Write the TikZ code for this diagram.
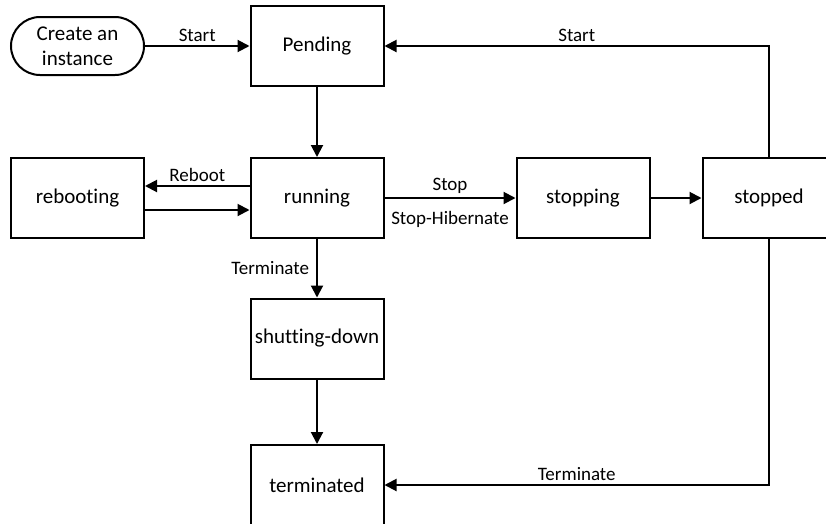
\documentclass[tikz,border=0pt]{standalone}
\usepackage{fontspec}
\setmainfont{Carlito}[Ligatures={NoCommon}]
\usetikzlibrary{arrows.meta}
\begin{document}
\begin{tikzpicture}[x=1pt,y=-1pt,
  state/.style={draw,line width=2pt,minimum width=133pt,minimum height=80pt,inner sep=0pt,font=\fontsize{21}{25}\selectfont},
  startnode/.style={draw,line width=2pt,rounded corners=29pt,minimum width=133pt,minimum height=58pt,inner sep=0pt,align=center,font=\fontsize{21}{25}\selectfont},
  arr/.style={line width=2pt,-{Triangle[length=12pt,width=12pt]}},
  lbl/.style={font=\fontsize{19}{22}\selectfont,inner sep=3pt}]
\useasboundingbox (0,0) rectangle (826,523);
\clip (0,0) rectangle (826,523);
\node[startnode] (create) at (77.5,46) {Create an\\instance};
\node[state] (pending) at (317,46) {Pending};
\node[state] (rebooting) at (77.5,198) {rebooting};
\node[state] (running) at (317,198) {running};
\node[state] (stopping) at (583,198) {stopping};
\node[state] (stopped) at (769,198) {stopped};
\node[state] (shutting) at (317,338.5) {shutting-down};
\node[state] (terminated) at (317,485) {terminated};
\draw[arr] (create) -- node[lbl,above] {Start} (pending);
\draw[arr] (pending) -- (running);
\draw[arr] ([yshift=12pt]running.west) -- node[lbl,above] {Reboot} ([yshift=12pt]rebooting.east);
\draw[arr] ([yshift=-12pt]rebooting.east) -- ([yshift=-12pt]running.west);
\draw[arr] (running) -- node[lbl,above] {Stop} node[lbl,below,yshift=-9pt] {Stop-Hibernate} (stopping);
\draw[arr] (stopping) -- (stopped);
\draw[arr] (stopped.north) |- node[lbl,above,pos=0.75] {Start} (pending.east);
\draw[arr] (running) -- node[lbl,left,xshift=-4pt] {Terminate} (shutting);
\draw[arr] (shutting) -- (terminated);
\draw[arr] (stopped.south) |- node[lbl,above,pos=0.75] {Terminate} (terminated.east);
\end{tikzpicture}
\end{document}
